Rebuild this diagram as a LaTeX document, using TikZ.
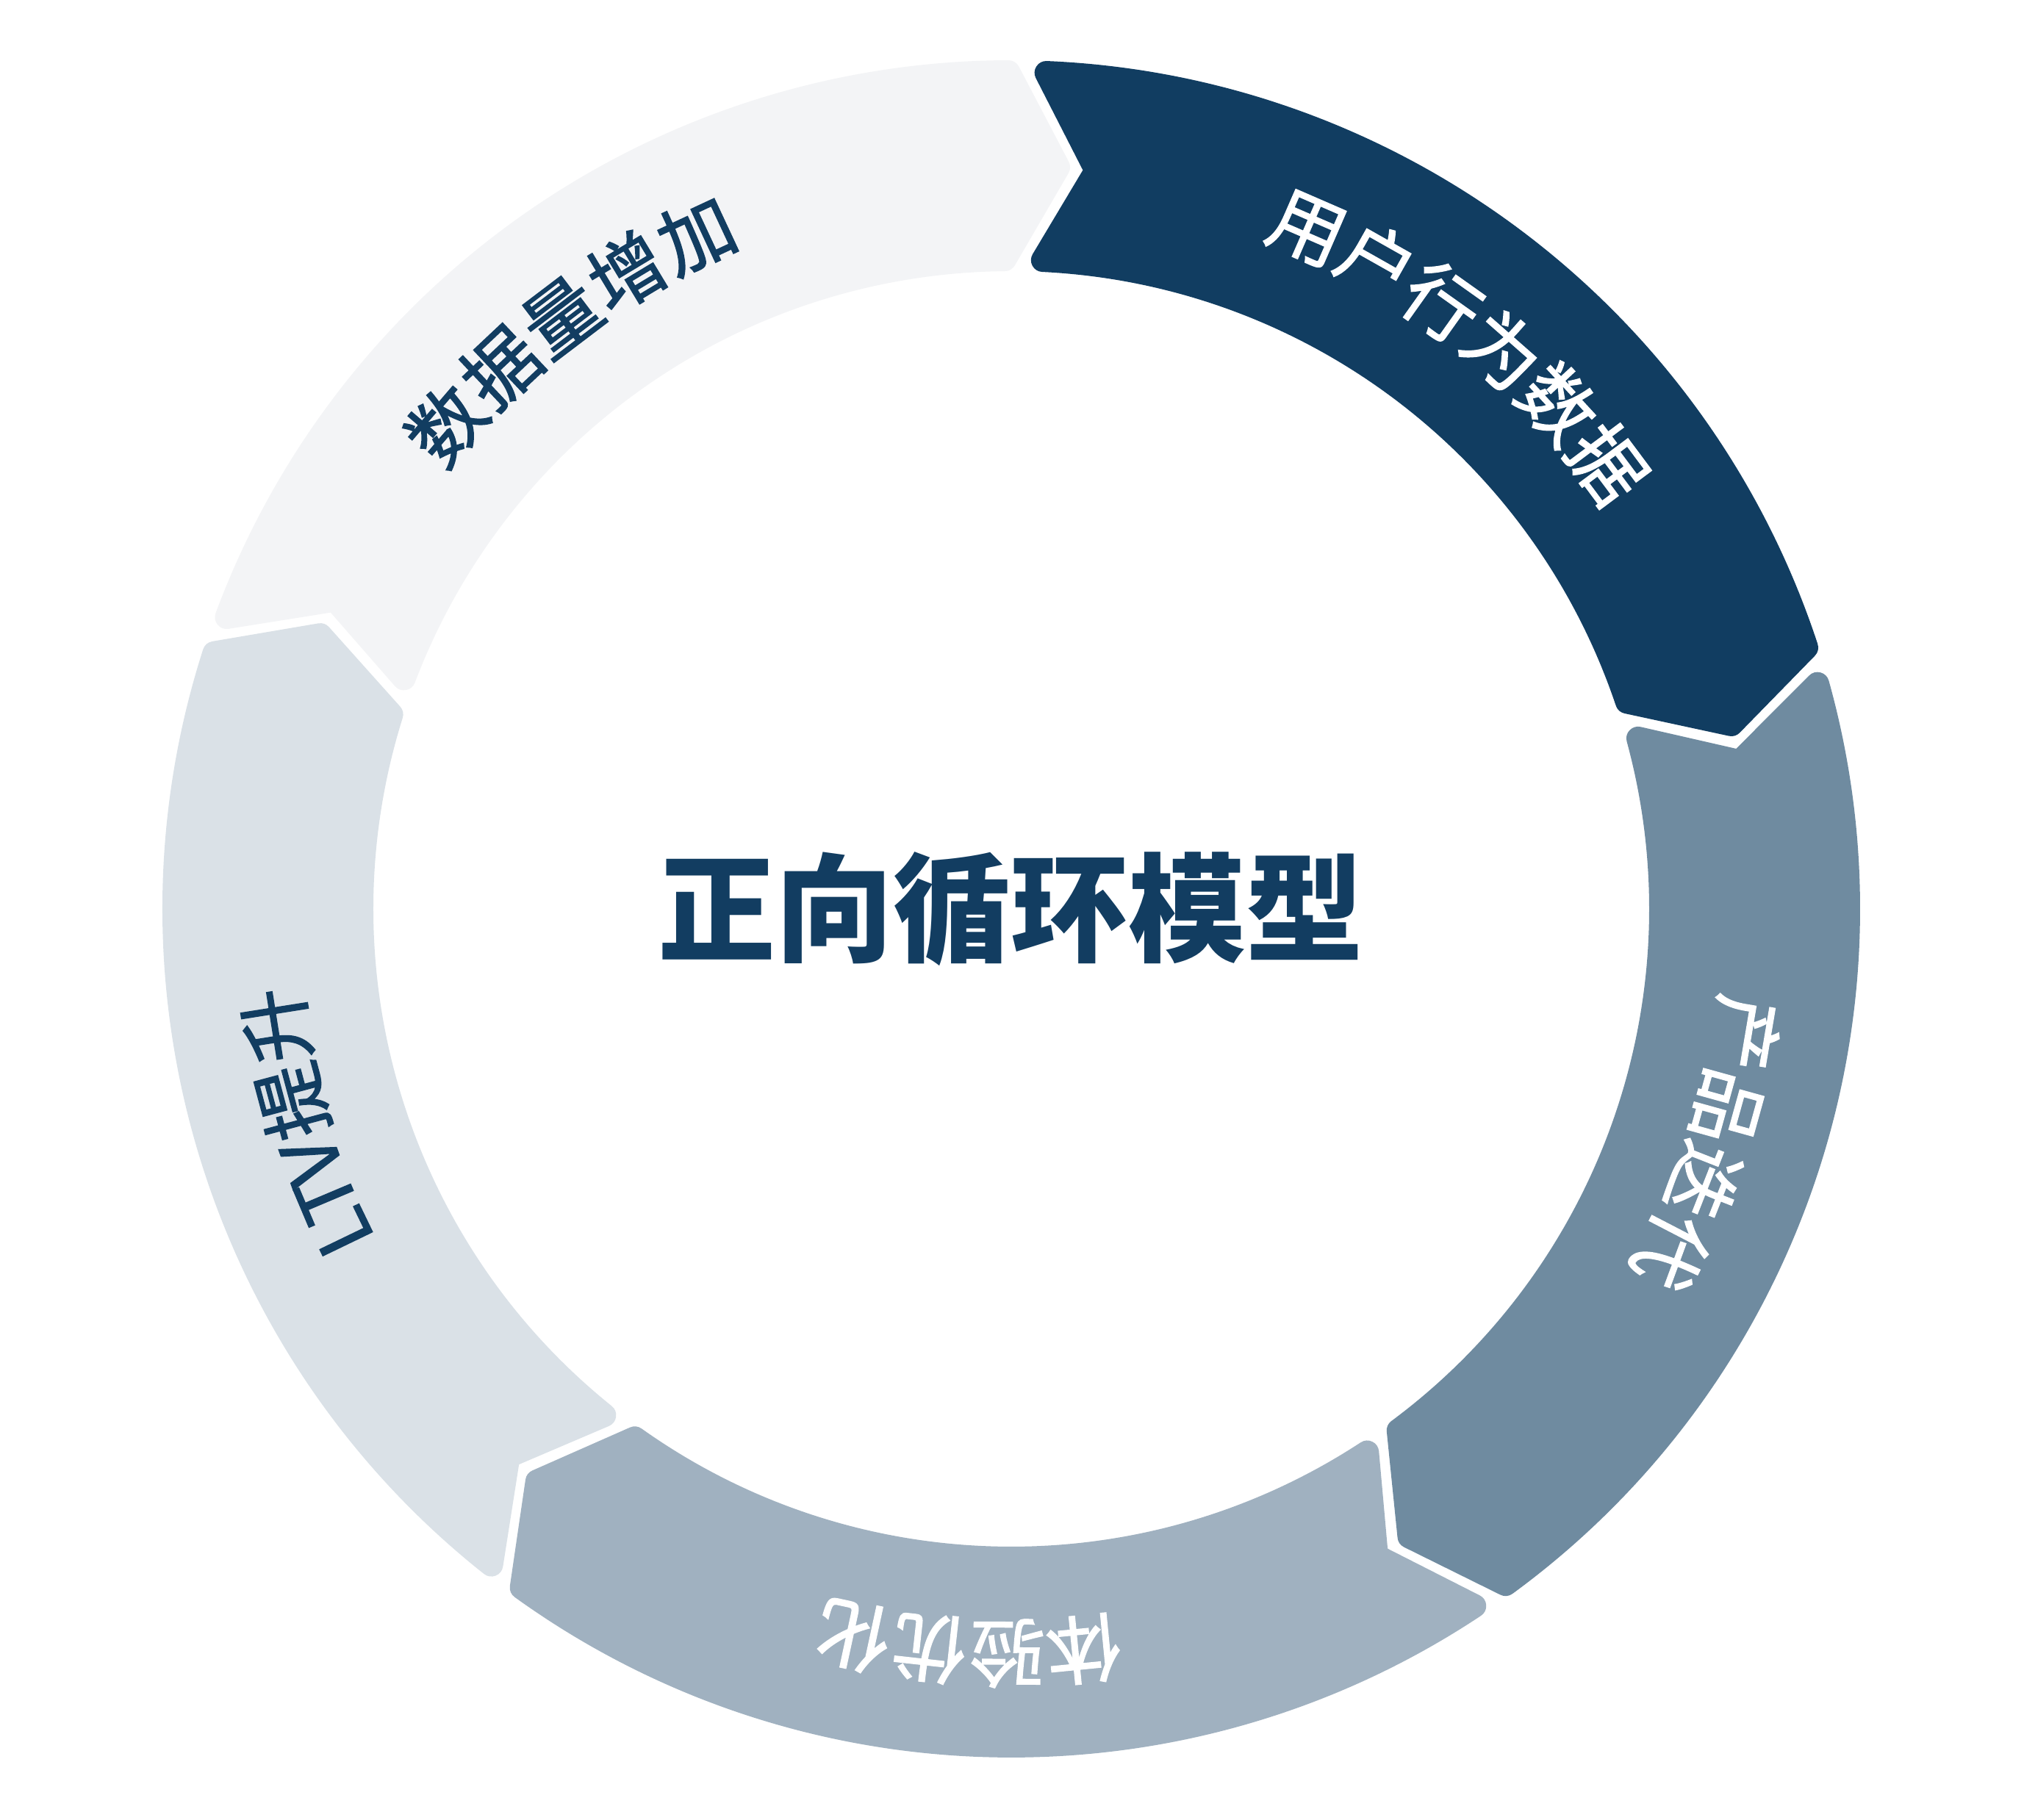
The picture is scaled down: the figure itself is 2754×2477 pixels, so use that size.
\documentclass[tikz,border=0pt]{standalone}
\usepackage{fontspec}
\newfontfamily\cjk{Noto Sans CJK SC}
\newfontfamily\cjklbl{Noto Sans CJK SC}[FakeBold=1.5]
\definecolor{cA}{HTML}{113D61}
\definecolor{cB}{HTML}{6F8BA0}
\definecolor{cC}{HTML}{A0B1C0}
\definecolor{cD}{HTML}{DAE1E7}
\definecolor{cE}{HTML}{F3F4F6}
\definecolor{navy}{HTML}{123D61}
% ring segment: inset outline, filled and stroked with a round-joined line (rounds the convex corners)
\newcommand\ringseg[2]{%
  \filldraw[#2, line width=16pt, line join=round]
    ({#1-1.80}:1139) -- ({#1-5.97}:1011.5) -- ({#1-2.18}:884)
    arc[start angle={#1-2.18}, end angle={#1-72+1.18}, radius=884]
    -- ({#1-72-3.03}:1011.5) -- ({#1-72+0.795}:1139)
    arc[start angle={#1-72+0.795}, end angle={#1-1.80}, radius=1139] -- cycle;}
\tikzset{
  lbl/.style={inner sep=0pt, font=\cjklbl\fontsize{51pt}{51pt}\selectfont,
    text height=41pt, text depth=4pt},
  ttl/.style={inner sep=0pt, font=\cjk\bfseries\fontsize{80pt}{80pt}\selectfont, text=navy}
}
\begin{document}
\begin{tikzpicture}[x=0.5pt,y=0.5pt]
\useasboundingbox[fill=white] (-1376,-1240) rectangle (1378,1237);
\ringseg{89.4}{cA}
\ringseg{17.4}{cB}
\ringseg{-54.6}{cC}
\ringseg{-126.6}{cD}
\ringseg{161.4}{cE}
% labels
\foreach \ch/\a [count=\i] in {用/66.5,户/60.55,行/54.6,为/48.65,数/42.7,据/36.75}
  \node[lbl, text=white, rotate=\a-90] (la\i) at (\a:1011) {\ch};
\foreach \ch/\a [count=\i] in {产/-9.6,品/-15.5,迭/-21.45,代/-27.4}
  \node[lbl, text=white, rotate=\a-90] (lb\i) at (\a:1011) {\ch};
\foreach \ch/\a [count=\i] in {体/-84.4,验/-90.3,优/-96.3,化/-102.2}
  \node[lbl, text=white, rotate=\a-90] (lc\i) at (\a:1011) {\ch};
\foreach \ch/\a [count=\i] in {L/205.8,T/202.9,V/199.8,提/195.0,升/189.0}
  \node[lbl, text=navy, rotate=\a-90] (ld\i) at (\a:1011) {\ch};
\foreach \ch/\a [count=\i] in {数/139.4,据/133.3,量/127.2,增/121.1,加/115.0}
  \node[lbl, text=navy, rotate=\a-90] (le\i) at (\a:1011) {\ch};
\node[ttl] (title) at (0,0) {正向循环模型};
\end{tikzpicture}
\end{document}
